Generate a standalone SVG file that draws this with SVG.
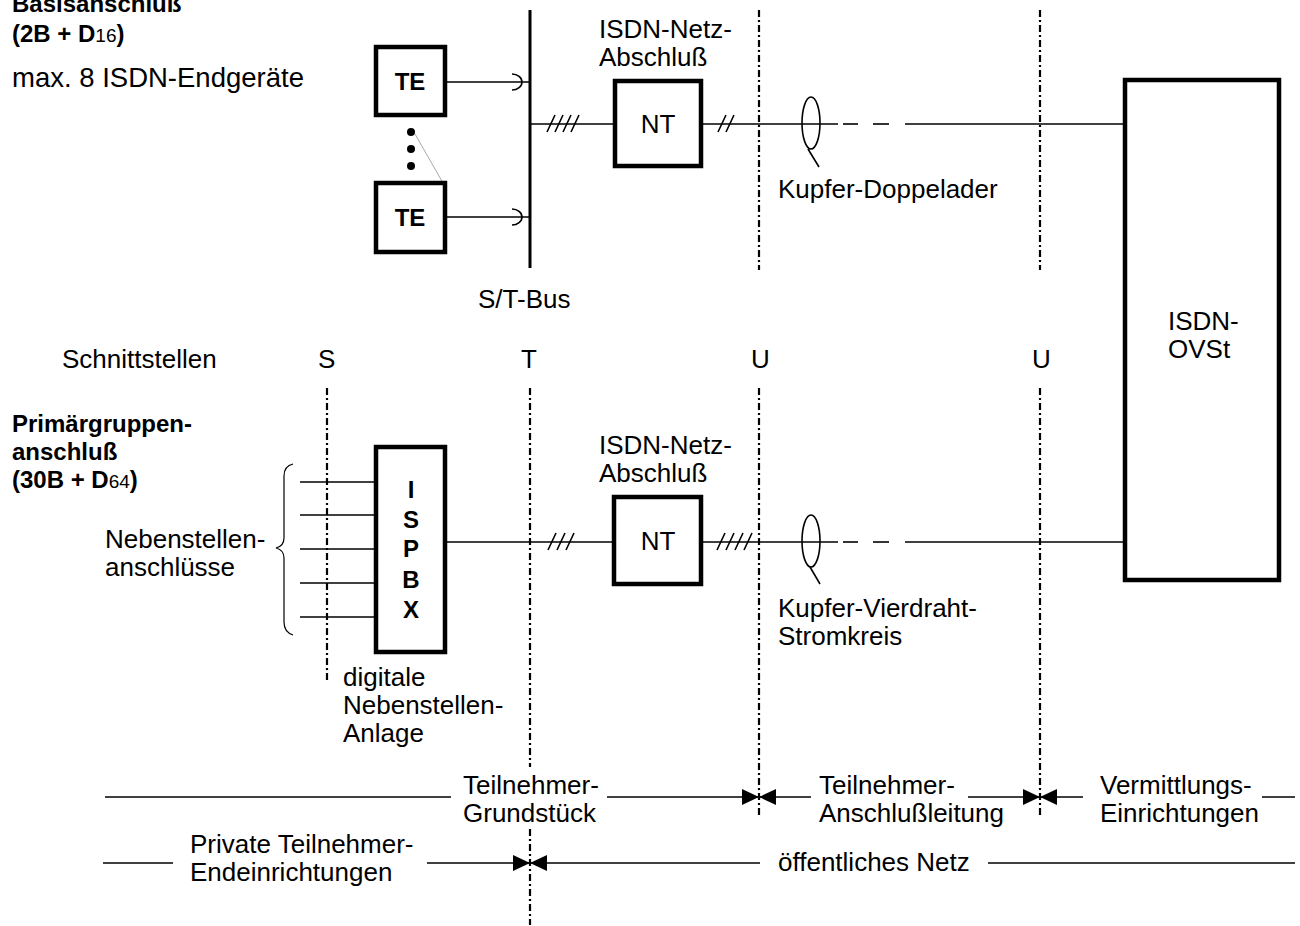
<svg xmlns="http://www.w3.org/2000/svg" width="1300" height="926" viewBox="0 0 1300 926">
  <style>
    text { font-family: "Liberation Sans", Arial, sans-serif; font-size: 26px; fill: #000; }
    .b { font-weight: bold; font-size: 24px; }
    .sub { font-weight: normal; font-size: 19px; }
    .big { font-size: 27.5px; }
    .box { fill: #fff; stroke: #000; stroke-width: 4.5; }
    .ln { stroke: #000; stroke-width: 1.6; fill: none; }
    .thin { stroke: #000; stroke-width: 1.2; fill: none; }
    .bus { stroke: #000; stroke-width: 3; }
    .dd { stroke: #000; stroke-width: 2.2; stroke-dasharray: 7 3 2 3; fill: none; }
    .mid { text-anchor: middle; }
  </style>
  <defs>
    <marker id="tip" markerUnits="userSpaceOnUse" viewBox="0 0 17 16" refX="17" refY="8" markerWidth="17" markerHeight="16" orient="auto">
      <path d="M0,0 L17,8 L0,16 z" fill="#000"/>
    </marker>
  </defs>

  <!-- interface reference lines (dash-dot) -->
  <g id="interfaces">
    <line class="dd" x1="759" y1="10" x2="759" y2="270"/>
    <line class="dd" x1="1040" y1="10" x2="1040" y2="270"/>
    <line class="dd" x1="327" y1="388" x2="327" y2="680"/>
    <line class="dd" x1="530" y1="388" x2="530" y2="767"/>
    <line class="dd" x1="530" y1="829" x2="530" y2="925"/>
    <line class="dd" x1="759" y1="388" x2="759" y2="815"/>
    <line class="dd" x1="1040" y1="388" x2="1040" y2="815"/>
  </g>

  <!-- connectors -->
  <g id="connectors">
    <!-- S/T bus -->
    <line class="bus" x1="530" y1="10" x2="530" y2="268"/>
    <!-- TE to bus with plug symbol -->
    <line class="ln" x1="446" y1="82" x2="530" y2="82"/>
    <path class="ln" d="M512,74 A10,8 0 0 1 512,90"/>
    <line class="ln" x1="446" y1="217" x2="530" y2="217"/>
    <path class="ln" d="M512,209 A10,8 0 0 1 512,225"/>
    <!-- bus to NT, basic access -->
    <line class="ln" x1="530" y1="124" x2="615" y2="124"/>
    <path class="ln" d="M547,132 L555,115 M555,132 L563,115 M563,132 L571,115 M571,132 L579,115"/>
    <!-- NT to exchange, basic access -->
    <line class="ln" x1="701" y1="124" x2="838" y2="124"/>
    <path class="ln" d="M718,132 L726,115 M726,132 L734,115"/>
    <line class="ln" x1="843" y1="124" x2="858" y2="124"/>
    <line class="ln" x1="873" y1="124" x2="889" y2="124"/>
    <line class="ln" x1="905" y1="124" x2="1125" y2="124"/>
    <ellipse class="ln" cx="811" cy="123" rx="9" ry="26" stroke-width="2"/>
    <line class="ln" x1="808" y1="149" x2="819" y2="167"/>

    <!-- extension lines into PBX -->
    <line class="ln" x1="300" y1="482" x2="376" y2="482"/>
    <line class="ln" x1="300" y1="515" x2="376" y2="515"/>
    <line class="ln" x1="300" y1="549" x2="376" y2="549"/>
    <line class="ln" x1="300" y1="583" x2="376" y2="583"/>
    <line class="ln" x1="300" y1="617" x2="376" y2="617"/>
    <path class="thin" d="M293,464 Q284,466 284,476 L284,538 Q284,546 276,548 Q284,550 284,558 L284,622 Q284,632 293,635"/>
    <!-- PBX to NT, primary rate -->
    <line class="ln" x1="445" y1="542" x2="614" y2="542"/>
    <path class="ln" d="M548,550 L556,533 M557,550 L565,533 M566,550 L574,533"/>
    <!-- NT to exchange, primary rate -->
    <line class="ln" x1="701" y1="542" x2="838" y2="542"/>
    <path class="ln" d="M717,550 L725,533 M726,550 L734,533 M735,550 L743,533 M744,550 L752,533"/>
    <line class="ln" x1="843" y1="542" x2="858" y2="542"/>
    <line class="ln" x1="873" y1="542" x2="889" y2="542"/>
    <line class="ln" x1="905" y1="542" x2="1125" y2="542"/>
    <ellipse class="ln" cx="811" cy="541" rx="9" ry="26" stroke-width="2"/>
    <line class="ln" x1="810" y1="567" x2="820" y2="584"/>

    <!-- scope lines, row 1 -->
    <line class="ln" x1="105" y1="797" x2="451" y2="797"/>
    <line class="ln" x1="607" y1="797" x2="759" y2="797" marker-end="url(#tip)"/>
    <line class="ln" x1="811" y1="797" x2="759" y2="797" marker-end="url(#tip)"/>
    <line class="ln" x1="968" y1="797" x2="1040" y2="797" marker-end="url(#tip)"/>
    <line class="ln" x1="1083" y1="797" x2="1040" y2="797" marker-end="url(#tip)"/>
    <line class="ln" x1="1262" y1="797" x2="1295" y2="797"/>
    <!-- scope lines, row 2 -->
    <line class="ln" x1="103" y1="863" x2="173" y2="863"/>
    <line class="ln" x1="427" y1="863" x2="530" y2="863" marker-end="url(#tip)"/>
    <line class="ln" x1="760" y1="863" x2="530" y2="863" marker-end="url(#tip)"/>
    <line class="ln" x1="988" y1="863" x2="1295" y2="863"/>
  </g>

  <!-- terminal equipment -->
  <g id="te1">
    <rect class="box" x="376" y="47" width="69" height="68"/>
    <text class="b mid" x="410" y="90">TE</text>
  </g>
  <g id="te-dots">
    <line x1="415" y1="134" x2="443" y2="183" stroke="#aaa" stroke-width="1"/>
    <circle cx="411" cy="132" r="4"/>
    <circle cx="411" cy="149" r="4"/>
    <circle cx="411" cy="166" r="4"/>
  </g>
  <g id="te2">
    <rect class="box" x="376" y="183" width="69" height="69"/>
    <text class="b mid" x="410" y="226">TE</text>
  </g>

  <!-- network terminations -->
  <g id="nt1">
    <rect class="box" x="615" y="81" width="86" height="85"/>
    <text class="mid" x="658" y="133">NT</text>
    <text x="599" y="38">ISDN-Netz-</text>
    <text x="599" y="66">Abschluß</text>
  </g>
  <g id="nt2">
    <rect class="box" x="614" y="497" width="87" height="87"/>
    <text class="mid" x="658" y="550">NT</text>
    <text x="599" y="454">ISDN-Netz-</text>
    <text x="599" y="482">Abschluß</text>
  </g>

  <!-- private branch exchange -->
  <g id="pbx">
    <rect class="box" x="376" y="447" width="69" height="205"/>
    <text class="b mid" x="411" y="498">I</text>
    <text class="b mid" x="411" y="528">S</text>
    <text class="b mid" x="411" y="557">P</text>
    <text class="b mid" x="411" y="588">B</text>
    <text class="b mid" x="411" y="618">X</text>
    <text x="343" y="686">digitale</text>
    <text x="343" y="714">Nebenstellen-</text>
    <text x="343" y="742">Anlage</text>
  </g>

  <!-- exchange -->
  <g id="ovst">
    <rect class="box" x="1125" y="80" width="154" height="500"/>
    <text x="1168" y="330">ISDN-</text>
    <text x="1168" y="358">OVSt</text>
  </g>

  <!-- labels -->
  <g id="labels">
    <text class="b" x="12" y="12">Basisanschluß</text>
    <text class="b" x="12" y="42">(2B + D<tspan class="sub">16</tspan>)</text>
    <text class="big" x="12" y="87">max. 8 ISDN-Endgeräte</text>
    <text x="778" y="198">Kupfer-Doppelader</text>
    <text x="478" y="308">S/T-Bus</text>
    <text x="62" y="368">Schnittstellen</text>
    <text x="318" y="368">S</text>
    <text x="521" y="368">T</text>
    <text x="751" y="368">U</text>
    <text x="1032" y="368">U</text>
    <text class="b" x="12" y="432">Primärgruppen-</text>
    <text class="b" x="12" y="460">anschluß</text>
    <text class="b" x="12" y="488">(30B + D<tspan class="sub">64</tspan>)</text>
    <text x="105" y="548">Nebenstellen-</text>
    <text x="105" y="576">anschlüsse</text>
    <text x="778" y="617">Kupfer-Vierdraht-</text>
    <text x="778" y="645">Stromkreis</text>
    <text x="463" y="794">Teilnehmer-</text>
    <text x="463" y="822">Grundstück</text>
    <text x="819" y="794">Teilnehmer-</text>
    <text x="819" y="822">Anschlußleitung</text>
    <text x="1100" y="794">Vermittlungs-</text>
    <text x="1100" y="822">Einrichtungen</text>
    <text x="190" y="853">Private Teilnehmer-</text>
    <text x="190" y="881">Endeinrichtungen</text>
    <text x="778" y="871">öffentliches Netz</text>
  </g>
</svg>
